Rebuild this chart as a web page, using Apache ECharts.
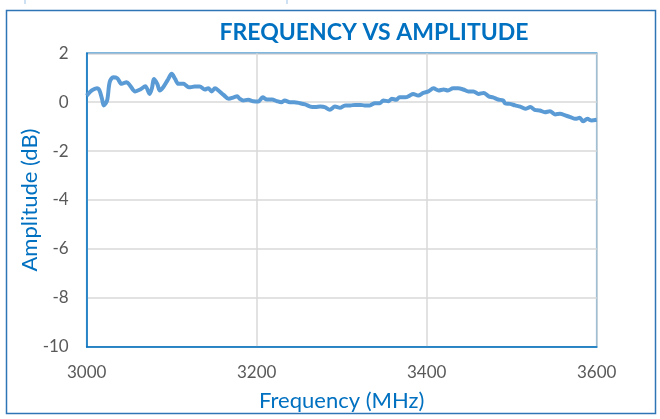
<!DOCTYPE html>
<html>
<head>
<meta charset="utf-8">
<script src="https://cdn.jsdelivr.net/npm/echarts@6/dist/echarts.min.js"></script>
<style>
html,body{margin:0;padding:0;background:#fff;}
#chart{width:660px;height:419px;}
</style>
</head>
<body>
<div id="chart"></div>
<script>
// Data
const frequencies = [3000,3006,3012,3015,3018,3020,3024,3027,3031,3036,3041,3047,3051,3057,3063,3069,3074,3077,3079,3083,3086,3090,3095,3100,3104,3108,3114,3116,3120,3122,3127,3133,3139,3143,3147,3151,3155,3161,3167,3173,3177,3180,3184,3190,3196,3202,3207,3212,3218,3224,3229,3233,3239,3244,3251,3257,3263,3269,3275,3280,3286,3292,3298,3304,3310,3316,3322,3327,3333,3339,3345,3349,3355,3359,3364,3368,3375,3380,3384,3390,3396,3402,3408,3414,3420,3425,3431,3437,3443,3449,3455,3461,3467,3473,3478,3484,3490,3492,3498,3504,3510,3516,3522,3527,3533,3539,3545,3551,3557,3563,3569,3575,3580,3584,3589,3594,3600];
const amplitudes = [0.27,0.48,0.57,0.48,0.14,-0.13,0.07,0.82,1.02,0.98,0.75,0.82,0.68,0.44,0.52,0.65,0.34,0.61,0.95,0.75,0.48,0.61,0.89,1.16,0.95,0.75,0.75,0.71,0.61,0.61,0.64,0.64,0.52,0.57,0.44,0.57,0.48,0.30,0.14,0.20,0.24,0.14,0.07,0.10,0.04,0.03,0.20,0.11,0.11,0.04,0.00,0.07,0.00,0.00,-0.04,-0.09,-0.18,-0.20,-0.18,-0.20,-0.31,-0.18,-0.23,-0.13,-0.13,-0.11,-0.11,-0.13,-0.13,-0.04,-0.04,0.07,0.04,0.14,0.10,0.20,0.20,0.27,0.34,0.27,0.38,0.44,0.57,0.48,0.52,0.48,0.57,0.57,0.52,0.44,0.44,0.34,0.38,0.24,0.20,0.11,0.07,-0.04,-0.07,-0.13,-0.18,-0.27,-0.20,-0.31,-0.34,-0.41,-0.37,-0.50,-0.47,-0.54,-0.61,-0.68,-0.64,-0.78,-0.68,-0.75,-0.72];
const xTicks = {min: 3000, max: 3600, interval: 200};
const yTicks = {min: -10, max: 2, interval: 2};

const titleText = 'FREQUENCY VS AMPLITUDE';
const xTitle = 'Frequency (MHz)';
const yTitle = 'Amplitude (dB)';

const blue = '#0070C0';
const font = 'Lato, "Open Sans", sans-serif';

const chart = echarts.init(document.getElementById('chart'), null, {renderer: 'canvas'});
chart.setOption({
  animation: false,
  backgroundColor: '#ffffff',
  graphic: [
    {type: 'rect', shape: {x: 6.5, y: 10.5, width: 649, height: 403}, style: {fill: 'none', stroke: '#2E75B6', lineWidth: 1.5}, silent: true},
    {type: 'line', shape: {x1: 25, y1: 0, x2: 25, y2: 4}, style: {stroke: '#9DC3E6', lineWidth: 1}},
    {type: 'line', shape: {x1: 287, y1: 0, x2: 287, y2: 4}, style: {stroke: '#9DC3E6', lineWidth: 1}}
  ],
  title: {
    text: titleText,
    left: 369, top: 16, textAlign: 'center',
    textStyle: {color: blue, fontSize: 23, fontWeight: 'bold', fontFamily: font}
  },
  grid: {
    left: 86.7, right: 63.3, top: 53.3, bottom: 72.3,
    outerBoundsMode: 'none', containLabel: false,
    show: true, borderColor: blue, borderWidth: 1.5, backgroundColor: 'transparent'
  },
  xAxis: {
    type: 'value', min: xTicks.min, max: xTicks.max, interval: xTicks.interval,
    name: xTitle, nameLocation: 'middle', nameGap: 43, nameMoveOverlap: false,
    nameTextStyle: {color: blue, fontSize: 22, fontFamily: font},
    axisLine: {show: true, onZero: false, lineStyle: {color: blue, width: 1.5}},
    axisTick: {show: false},
    axisLabel: {color: '#595959', fontSize: 17, margin: 17, fontFamily: font, formatter: v => String(v)},
    splitLine: {show: true, lineStyle: {color: '#D9D9D9', width: 1.5}}
  },
  yAxis: {
    type: 'value', min: yTicks.min, max: yTicks.max, interval: yTicks.interval,
    name: yTitle, nameLocation: 'middle', nameGap: 46, nameRotate: 90, nameMoveOverlap: false,
    nameTextStyle: {color: blue, fontSize: 22, fontFamily: font},
    axisLine: {show: true, lineStyle: {color: blue, width: 1.5}},
    axisTick: {show: false},
    axisLabel: {color: '#595959', fontSize: 17, margin: 18, fontFamily: font},
    splitLine: {show: true, lineStyle: {color: '#D9D9D9', width: 1.5}}
  },
  series: [{
    type: 'line',
    data: frequencies.map((f, i) => [f, amplitudes[i]]),
    showSymbol: false,
    smooth: 0.3,
    lineStyle: {color: '#5B9BD5', width: 4},
    z: 5
  }]
});
</script>
</body>
</html>
